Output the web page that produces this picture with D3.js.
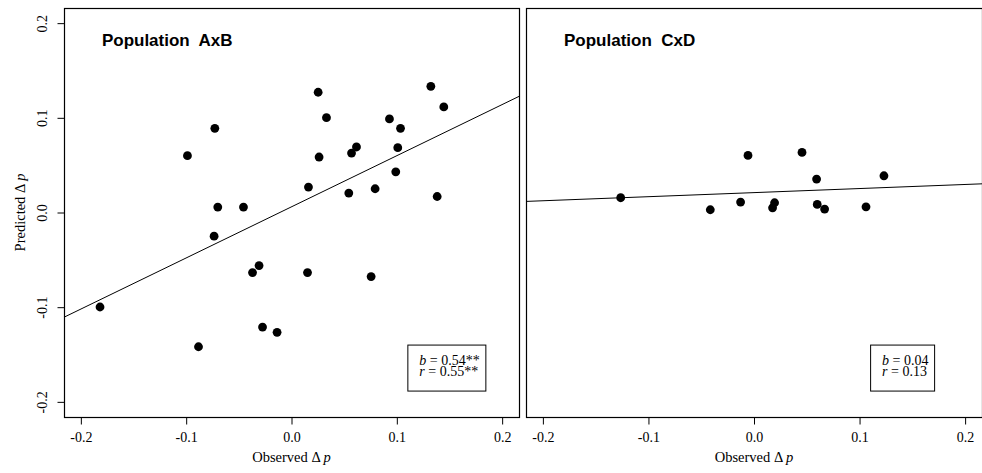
<!DOCTYPE html>
<html>
<head>
<meta charset="utf-8">
<script src="https://cdn.jsdelivr.net/npm/d3@7"></script>
<style>
  html, body { margin: 0; padding: 0; background: #fff; }
  svg { display: block; }
  .serif { font-family: "Liberation Serif", "Times New Roman", serif; }
  .title { font-family: "Liberation Sans", Arial, sans-serif; font-weight: bold; font-size: 17px; white-space: pre; }
</style>
</head>
<body>
<div id="chart"></div>
<script>
// panel names and fitted regression (intercept, slope)
const panels = ['AxB', 'CxD'];
const intercepts = [0.006, 0.021];
const slopes = [0.54, 0.043];
const statB = ['0.54**', '0.04'];
const statR = ['0.55**', '0.13'];

// Population AxB: observed vs predicted delta p
const obsAB = [-0.0988, -0.0728, -0.070, -0.0456, -0.0735, 0.0253, 0.0332, 0.0262, 0.0161, 0.057,
  0.0617, 0.0544, 0.0794, 0.093, 0.1035, 0.1009, 0.099, 0.1323, 0.1446, 0.1383,
  -0.0308, -0.037, 0.0152, 0.0756, -0.1818, -0.0275, -0.0137, -0.0883];
const predAB = [0.060, 0.0889, 0.0057, 0.0057, -0.025, 0.127, 0.1002, 0.0586, 0.0269, 0.0628,
  0.0692, 0.0205, 0.0251, 0.0988, 0.0889, 0.0685, 0.043, 0.1333, 0.1115, 0.0169,
  -0.0561, -0.0635, -0.0635, -0.0677, -0.0998, -0.121, -0.1266, -0.1418];

// Population CxD
const obsCD = [-0.1263, -0.0414, -0.0127, -0.0057, 0.0176, 0.0195, 0.0455, 0.0593, 0.0599, 0.0669, 0.1061, 0.1231];
const predCD = [0.0156, 0.0029, 0.011, 0.0603, 0.005, 0.0103, 0.0635, 0.0353, 0.0085, 0.0036, 0.006, 0.0388];

const tickValues = [-0.2, -0.1, 0.0, 0.1, 0.2];
const domain = [-0.216, 0.216];

const W = 982, H = 473;
const plotTop = 8, plotBottom = 417;
const ranges = [[64, 519], [526, 982]];

const svg = d3.select('#chart').append('svg')
  .attr('width', W).attr('height', H);

const y = d3.scaleLinear().domain(domain).range([plotBottom, plotTop]);
const fmt = (d) => d.toFixed(1);

const series = [
  obsAB.map((o, i) => [o, predAB[i]]),
  obsCD.map((o, i) => [o, predCD[i]]),
];

panels.forEach((name, k) => {
  const x = d3.scaleLinear().domain(domain).range(ranges[k]);
  const g = svg.append('g');
  const [x0, x1] = ranges[k];

  g.append('clipPath').attr('id', `clip${k}`)
    .append('rect').attr('x', x0).attr('y', plotTop).attr('width', x1 - x0).attr('height', plotBottom - plotTop);

  // regression line
  g.append('line')
    .attr('clip-path', `url(#clip${k})`)
    .attr('x1', x(domain[0])).attr('x2', x(domain[1]))
    .attr('y1', y(intercepts[k] + slopes[k] * domain[0]))
    .attr('y2', y(intercepts[k] + slopes[k] * domain[1]))
    .attr('stroke', '#000').attr('stroke-width', 1);

  // points
  g.append('g').selectAll('circle').data(series[k]).join('circle')
    .attr('cx', (d) => x(d[0]))
    .attr('cy', (d) => y(d[1]))
    .attr('r', 4.4)
    .attr('fill', '#000');

  // box
  g.append('rect')
    .attr('x', x0 + 0.5).attr('y', plotTop + 0.5)
    .attr('width', x1 - x0).attr('height', plotBottom - plotTop)
    .attr('fill', 'none').attr('stroke', '#000').attr('stroke-width', 1.2);

  // x axis
  const xa = g.append('g').attr('class', 'serif')
    .attr('transform', `translate(0,${plotBottom + 0.5})`)
    .call(d3.axisBottom(x).tickValues(tickValues).tickFormat(fmt).tickSize(7).tickPadding(8));
  xa.select('.domain').remove();
  xa.selectAll('line').attr('stroke', '#000');
  xa.selectAll('text').attr('font-size', 14).attr('fill', '#000');

  g.append('text').attr('class', 'serif')
    .attr('x', (x0 + x1) / 2).attr('y', 462)
    .attr('text-anchor', 'middle').attr('font-size', 14.5)
    .text('Observed \u0394 ')
    .append('tspan').attr('font-style', 'italic').text('p');

  // title
  g.append('text').attr('class', 'title')
    .attr('x', x(-0.18)).attr('y', y(0.1755))
    .text(`Population  ${name}`);

  // legend box
  const lg = g.append('g').attr('class', 'serif')
    .attr('transform', `translate(${x(0.11)},${y(-0.1395)})`);
  const t1 = lg.append('text').attr('x', 12).attr('y', 20).attr('font-size', 14);
  t1.append('tspan').attr('font-style', 'italic').text('b');
  t1.append('tspan').text(` = ${statB[k]}`);
  const t2 = lg.append('text').attr('x', 12).attr('y', 31.3).attr('font-size', 14);
  t2.append('tspan').attr('font-style', 'italic').text('r');
  t2.append('tspan').text(` = ${statR[k]}`);
  const tw = Math.max(t1.node().getComputedTextLength(), t2.node().getComputedTextLength());
  lg.insert('rect', 'text')
    .attr('x', 0.5).attr('y', 0.5)
    .attr('width', Math.round(tw + 18)).attr('height', 46)
    .attr('fill', '#fff').attr('stroke', '#000').attr('stroke-width', 1);
});

// y axis (left panel only)
const ya = svg.append('g').attr('class', 'serif')
  .attr('transform', `translate(${ranges[0][0] + 0.5},0)`)
  .call(d3.axisLeft(y).tickValues(tickValues).tickFormat(fmt).tickSize(7));
ya.select('.domain').remove();
ya.selectAll('line').attr('stroke', '#000');
ya.selectAll('text')
  .attr('font-size', 14).attr('fill', '#000')
  .attr('transform', 'rotate(-90)')
  .attr('x', 0).attr('y', -17.5).attr('dy', 0)
  .attr('text-anchor', 'middle');

svg.append('text').attr('class', 'serif')
  .attr('transform', `translate(25,${(plotTop + plotBottom) / 2}) rotate(-90)`)
  .attr('text-anchor', 'middle').attr('font-size', 14.5)
  .text('Predicted \u0394 ')
  .append('tspan').attr('font-style', 'italic').text('p');
</script>
</body>
</html>
